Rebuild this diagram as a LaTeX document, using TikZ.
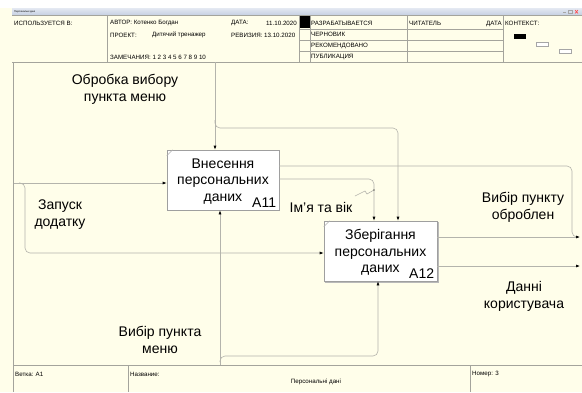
\documentclass[tikz,border=0pt]{standalone}
\usepackage{fontspec}
\setmainfont{Liberation Sans}
\usetikzlibrary{arrows.meta,calc}
\definecolor{paper}{HTML}{FFFEEA}
\definecolor{rule}{HTML}{A4A49C}
\definecolor{wire}{HTML}{B4B4AC}
\definecolor{barA}{HTML}{C6D0E2}
\definecolor{barB}{HTML}{E4E9F2}
\tikzset{
  frameline/.style={draw=rule,line width=0.7pt},
  hdr/.style={font=\fontsize{6.2}{7}\selectfont,inner sep=0pt},
  lbl/.style={font=\fontsize{14}{17}\selectfont,align=center,inner sep=0pt},
  actbox/.style={draw=gray!75,fill=white,line width=0.6pt,minimum width=112pt,minimum height=60pt,inner sep=0pt},
  acttext/.style={font=\fontsize{14}{16.5}\selectfont,align=center,inner sep=0pt},
  conn/.style={draw=wire,line width=0.6pt,rounded corners=5pt},
  arr/.style={conn,-{Latex[length=4pt,width=3pt,color=black]}},
}
\begin{document}
\begin{tikzpicture}[x=1pt,y=-1pt]
\useasboundingbox (0,0) rectangle (582,392);
% paper and window title bar
\fill[paper] (0,0) rectangle (582,392);
\fill[white] (0,0) rectangle (582,8);
\shade[top color=barB,bottom color=barA] (12,8) rectangle (582,15);
\node[anchor=west,font=\fontsize{2.6}{3}\selectfont,inner sep=0pt] (ttl) at (14,11.5) {Персональні дані};
\draw[gray!70,line width=0.6pt] (563,12.5) -- (566,12.5);
\draw[gray!70,line width=0.4pt] (568,10) rectangle (572,13.5);
\draw[red!70,line width=0.6pt] (575,10) -- (578,13.5) (575,13.5) -- (578,10);

% header grid
\draw[frameline] (12,15) -- (582,15);
\draw[frameline] (12,62) -- (582,62);
\draw[frameline] (107,15) -- (107,62);
\draw[frameline] (299,15) -- (299,62);
\draw[frameline] (310,15) -- (310,62);
\draw[frameline] (407,15) -- (407,62);
\draw[frameline] (503,15) -- (503,62);
\foreach \yy in {29,40,51} \draw[frameline] (299,\yy) -- (503,\yy);
\fill[black] (300,16) rectangle (310,28);

\node[hdr,anchor=west] (used) at (14,23) {ИСПОЛЬЗУЕТСЯ В:};
\node[hdr,anchor=west] (author) at (110,23) {АВТОР: Котенко Богдан};
\node[hdr,anchor=west] (datek) at (231,23) {ДАТА:};
\node[hdr,anchor=east] (datev) at (297,23) {11.10.2020};
\node[hdr,anchor=west] (projk) at (110,35) {ПРОЕКТ:};
\node[hdr,anchor=west] (projv) at (152,35) {Дитячий тренажер};
\node[hdr,anchor=west] (revk) at (231,35) {РЕВИЗИЯ: 13.10.2020};
\node[hdr,anchor=west] (notes) at (110,57) {ЗАМЕЧАНИЯ: 1 2 3 4 5 6 7 8 9 10};
\node[hdr,anchor=west] (st1) at (311,23.5) {РАЗРАБАТЫВАЕТСЯ};
\node[hdr,anchor=west] (st2) at (311,34.5) {ЧЕРНОВИК};
\node[hdr,anchor=west] (st3) at (311,45.5) {РЕКОМЕНДОВАНО};
\node[hdr,anchor=west] (st4) at (311,57) {ПУБЛИКАЦИЯ};
\node[hdr,anchor=west] (reader) at (409,23.5) {ЧИТАТЕЛЬ};
\node[hdr,anchor=east] (rdate) at (502,23.5) {ДАТА};
\node[hdr,anchor=west] (ctx) at (505,23.5) {КОНТЕКСТ:};
\fill[black] (514,34) rectangle (526,38.5);
\draw[gray!70,fill=white,line width=0.4pt] (536,42) rectangle (548,46);
\draw[gray!70,fill=white,line width=0.4pt] (559,49) rectangle (571,53);

% diagram frame and footer
\draw[frameline] (13,62) -- (13,392);
\draw[frameline] (13,365) -- (582,365);
\draw[frameline] (128,365) -- (128,392);
\draw[frameline] (470,365) -- (470,392);
\node[hdr,anchor=west] (branch) at (15,374) {Ветка: A1};
\node[hdr,anchor=west] (title) at (130,374) {Название:};
\node[hdr] (tval) at (316,382) {Персональні дані};
\node[hdr,anchor=west] (num) at (472,374) {Номер: 3};

% activity boxes
\node[actbox] (a11) at (223,180) {};
\node[actbox,minimum width=113pt] (a12) at (380.5,251) {};
\draw[gray!60,line width=0.5pt] ($(a11.north west)+(0,6)$) -- ($(a11.north west)+(6,0)$);
\draw[gray!60,line width=0.5pt] ($(a12.north west)+(0,6)$) -- ($(a12.north west)+(6,0)$);
\draw[gray!55,line width=0.8pt] ($(a12.south west)+(1,0.6)$) -- ($(a12.south east)+(0.6,0.6)$) -- ($(a12.north east)+(0.6,1)$);
\node[acttext] (a11t) at ($(a11.center)+(0,1.5)$) {Внесення\\персональних\\даних};
\node[acttext,anchor=south east] (a11n) at ($(a11.south east)+(-3,-3)$) {A11};
\node[acttext] (a12t) at ($(a12.center)+(0,1.5)$) {Зберігання\\персональних\\даних};
\node[acttext,anchor=south east] (a12n) at ($(a12.south east)+(-3,-3)$) {A12};

% boundary points
\coordinate (ctrlT) at (215,62);
\coordinate (brT) at (215,120);
\coordinate (inL) at (14,183);
\coordinate (brL) at (19,183);
\coordinate (ctrlB) at (220,365);
\coordinate (brB) at (220,362);
\coordinate (outA) at (580,237);
\coordinate (outB) at (580,266);
\coordinate (joinA) at (576,237);

% controls from the top
\draw[arr] (ctrlT) -- (ctrlT |- a11.north);
\draw[arr] (brT) -- (215,128) -- (398,128) -- (398,0 |- a12.north);
% inputs from the left
\draw[arr] (inL) -- (inL -| a11.west);
\draw[arr] (brL) -- (25,183) -- (25,253) -- (0,253 -| a12.west);
% controls from the bottom
\draw[arr] (ctrlB) -- (ctrlB |- a11.south);
\draw[arr] (brB) -- (220,356) -- (378,356) -- (378,0 |- a12.south);
% outputs
\draw[conn] (279,166) -- (572,166) -- (572,237) -- (joinA);
\draw[arr] (a11.east |- 0,179) -- (374,179) -- (374,0 |- a12.north);
\draw[arr] (a12.east |- 0,237) -- (outA);
\draw[arr] (a12.east |- 0,266) -- (outB);

% tie for the label of the A11 -> A12 arrow
\draw[wire,line width=0.6pt] (355,196) -- (365,191) -- (367,194) -- (374,190);
\fill[black] (374,190) circle (0.7pt);

% arrow labels
\node[lbl] (lsel) at (125,89) {Обробка вибору\\пункта меню};
\node[lbl] (lrun) at (60,215) {Запуск\\додатку};
\node[lbl] (lmenu) at (160,340) {Вибір пункта\\меню};
\node[lbl] (lname) at (321,207) {Ім\char39я та вік};
\node[lbl] (ldone) at (523,207) {Вибір пункту\\оброблен};
\node[lbl] (ldata) at (524,296) {Данні\\користувача};
\end{tikzpicture}
\end{document}
